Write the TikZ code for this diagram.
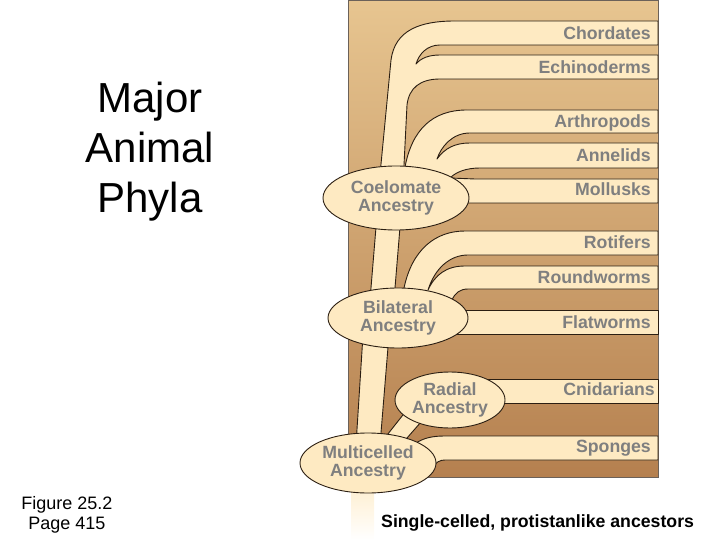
\documentclass[tikz,border=0pt]{standalone}
\usepackage{fontspec}
\setmainfont{Liberation Sans}
\usetikzlibrary{shapes.geometric}

\definecolor{panelTop}{HTML}{E7C590}
\definecolor{panelBot}{HTML}{B5804F}
\definecolor{cream}{HTML}{FEEAC2}
\definecolor{edge}{HTML}{2B1E12}
\definecolor{labelgray}{HTML}{7F7F7F}

\begin{document}
\begin{tikzpicture}[x=1pt, y=-1pt,
        band/.style={fill=cream, draw=edge, line width=0.9pt, line join=round},
        ancestry/.style={ellipse, fill=cream, draw=edge, line width=0.9pt, inner sep=0pt, align=center, text=labelgray, font=\bfseries\fontsize{17.7}{18}\selectfont},
        phylum/.style={anchor=base east, inner sep=0pt, text=labelgray, font=\bfseries\fontsize{17.7}{20}\selectfont}
    ]
        \useasboundingbox (0,0) rectangle (720,540);

        % background panel and stem
        \shade[top color=panelTop, bottom color=panelBot, draw=edge!70, line width=0.6pt] (348,0) rectangle (658,477);
        \shade[top color=cream, bottom color=white] (351,470) rectangle (374,540);

        % deuterostome branch
        \draw[band] (379,185) -- (391,60) .. controls (395,30) and (420,21) .. (455,21) -- (658,21) -- (658,45) -- (440,45)
            .. controls (427,45) and (419,54) .. (416,64) .. controls (421,58) and (429,55) .. (440,55) -- (658,55) -- (658,79)
            -- (440,79) .. controls (420,79) and (409,88) .. (407,105) -- (403,185) -- cycle;
        % protostome branches
        \draw[band] (404,185) -- (405,167) .. controls (412,130) and (432,110) .. (467,110) -- (658,110) -- (658,133) -- (470,133)
            .. controls (452,133) and (441,147) .. (437,159) .. controls (445,148) and (455,143) .. (470,143) -- (658,143) -- (658,168)
            -- (480,168) .. controls (466,168) and (456,172) .. (450,178) -- (475,179) -- (658,179) -- (658,203) -- (440,203) -- (420,185) -- cycle;
        \draw[band] (377,215) -- (370,300) -- (394,300) -- (401,215) -- cycle;
        % pseudocoelomates and flatworms
        \draw[band] (403,300) -- (404,288) .. controls (412,250) and (435,231) .. (465,231) -- (658,231) -- (658,255) -- (468,255)
            .. controls (450,255) and (435,268) .. (428,290) .. controls (435,275) and (446,266) .. (465,266) -- (658,266) -- (658,289)
            -- (468,289) .. controls (460,289) and (455,293) .. (452,300) -- (440,305) -- cycle;
        \draw[band] (440,310) -- (658,310) -- (658,334) -- (440,334) -- cycle;
        \draw[band] (363,335) -- (356,445) -- (380,445) -- (389,335) -- cycle;
        % radiata and sponges
        \draw[band] (380,444) -- (410,406) -- (428,414) -- (400,446) -- cycle;
        \draw[band] (480,379) -- (658,379) -- (658,403) -- (480,403) -- cycle;
        \draw[band] (405,455) -- (416,443) .. controls (424,438) and (432,436) .. (445,436) -- (658,436) -- (658,460)
            -- (445,460) .. controls (440,460) and (436,462) .. (432,468) -- cycle;

        \node[ancestry, minimum width=136pt, minimum height=60pt] (multi) at (368,463) {Multicelled\\Ancestry};
        \node[ancestry, minimum width=140pt, minimum height=60pt] (bilat) at (398,318) {Bilateral\\Ancestry};
        \node[ancestry, minimum width=146pt, minimum height=64pt] (coel) at (396,198) {Coelomate\\Ancestry};
        \node[ancestry, minimum width=110pt, minimum height=56pt] (radial) at (450,400) {Radial\\Ancestry};

        \node[phylum] (chord) at (651,40) {Chordates};
        \node[phylum] (echin) at (651,74) {Echinoderms};
        \node[phylum] (arthr) at (651,128) {Arthropods};
        \node[phylum] (annel) at (651,162) {Annelids};
        \node[phylum] (mollu) at (651,196) {Mollusks};
        \node[phylum] (rotif) at (651,248) {Rotifers};
        \node[phylum] (round) at (651,283) {Roundworms};
        \node[phylum] (flatw) at (651,328) {Flatworms};
        \node[phylum] (cnida) at (655,395) {Cnidarians};
        \node[phylum] (spong) at (651,452) {Sponges};

        \node[anchor=base west, inner sep=0pt, font=\bfseries\fontsize{17.7}{20}\selectfont] (single) at (381,527) {Single-celled, protistanlike ancestors};
        \node[align=center, inner sep=0pt, font=\fontsize{42}{50}\selectfont] (title) at (150,152) {Major\\Animal\\Phyla};
        \node[align=center, inner sep=0pt, font=\fontsize{18}{20}\selectfont] (figref) at (67,515) {Figure 25.2\\Page 415};
    \end{tikzpicture}
\end{document}
